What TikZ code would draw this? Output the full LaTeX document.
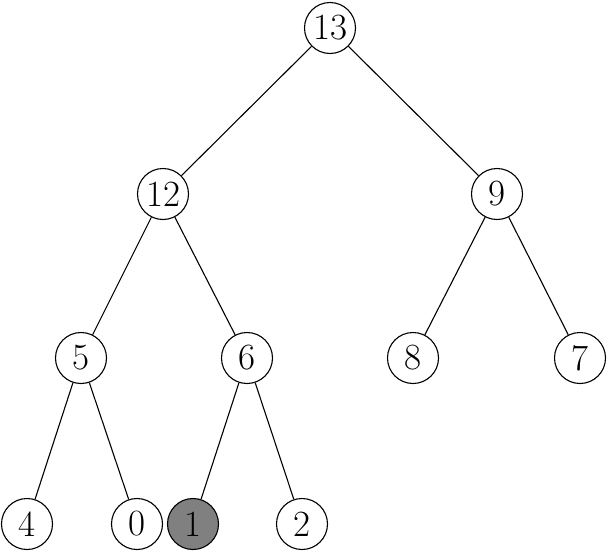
\documentclass[tikz,border=0pt]{standalone}
\begin{document}
\begin{tikzpicture}[x=1pt,y=-1pt,
  vert/.style={circle,draw,line width=1.1pt,minimum size=51pt,inner sep=0pt,font=\fontsize{37}{40}\selectfont},
  edge/.style={line width=1.1pt}]
\useasboundingbox (0,0) rectangle (608,552);
\node[vert] (n13) at (330,28) {13};
\node[vert] (n12) at (163,194) {12};
\node[vert] (n9) at (497,194) {9};
\node[vert] (n5) at (81,358) {5};
\node[vert] (n6) at (247,358) {6};
\node[vert] (n8) at (413,358) {8};
\node[vert] (n7) at (580,358) {7};
\node[vert] (n4) at (27,524) {4};
\node[vert] (n0) at (137,524) {0};
\node[vert,fill=gray] (n1) at (193,524) {1};
\node[vert] (n2) at (302,524) {2};
\draw[edge] (n13) -- (n12);
\draw[edge] (n13) -- (n9);
\draw[edge] (n12) -- (n5);
\draw[edge] (n12) -- (n6);
\draw[edge] (n9) -- (n8);
\draw[edge] (n9) -- (n7);
\draw[edge] (n5) -- (n4);
\draw[edge] (n5) -- (n0);
\draw[edge] (n6) -- (n1);
\draw[edge] (n6) -- (n2);
\end{tikzpicture}
\end{document}
